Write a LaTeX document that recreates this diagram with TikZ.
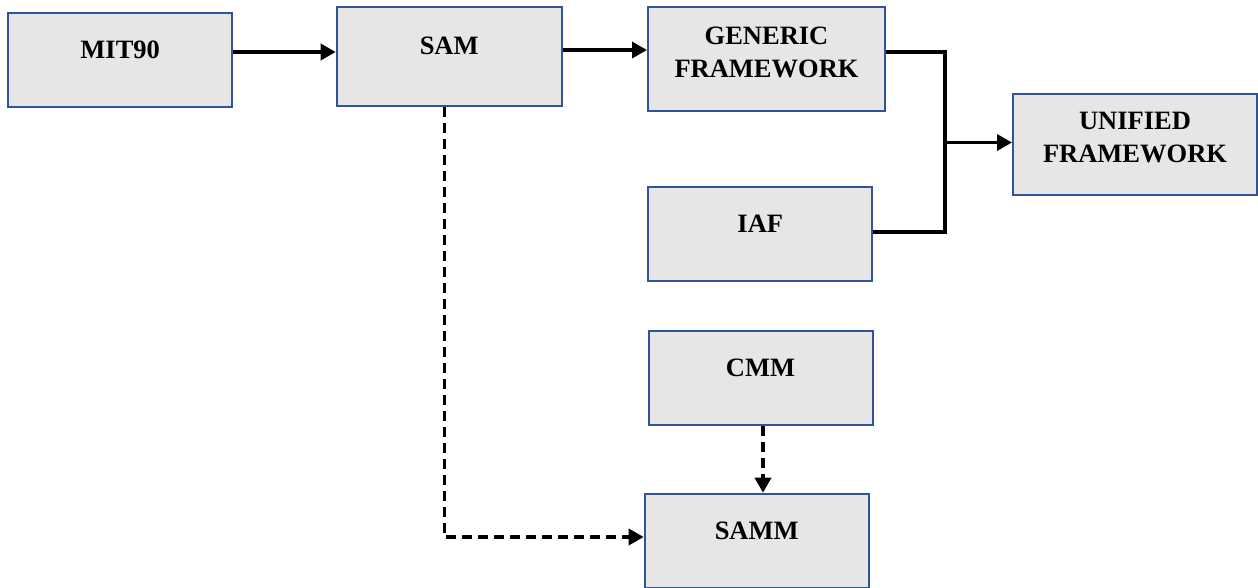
\documentclass[tikz,border=0pt]{standalone}
\usepackage{fontspec}
\setmainfont{Liberation Serif}
\usepackage{tikz, xcolor}
\usetikzlibrary{arrows.meta}

\definecolor{boxfill}{HTML}{E6E6E6}
\definecolor{boxline}{HTML}{2F5597}

\tikzset{
  blk/.style={draw=boxline, fill=boxfill, line width=2pt, inner sep=0pt,
    minimum width=224pt, minimum height=94pt, align=center,
    font=\fontsize{26.5}{33}\selectfont\bfseries,
    text height=18pt, text depth=21pt},
  twoline/.style={text height=40pt, text depth=3pt},
  arr/.style={line width=3.5pt, -{Triangle[length=15pt, width=16pt]}},
  dasharr/.style={arr, dash pattern=on 10pt off 6pt}
}

\begin{document}
\begin{tikzpicture}[x=1pt, y=-1pt]
    \useasboundingbox (0, 0) rectangle (1258, 588);

    \node [blk] (mit) at (120.2, 60.3) {MIT90};
    \node [blk, minimum width=225pt, minimum height=99pt] (sam) at (449.2, 56.3) {SAM};
    \node [blk, twoline, minimum width=237pt, minimum height=104pt] (gen) at (766.5, 58.9) {GENERIC\\FRAMEWORK};
    \node [blk, twoline, minimum width=244pt, minimum height=101pt] (uni) at (1135, 144.2) {UNIFIED\\FRAMEWORK};
    \node [blk] (iaf) at (760.3, 233.8) {IAF};
    \node [blk] (cmm) at (760.5, 377.5) {CMM};
    \node [blk] (samm) at (756.7, 540.7) {SAMM};

    \coordinate (jn) at (945, 142.5);

    \draw [arr] (mit.east |- 0, 52) -- (sam.west |- 0, 52);
    \draw [arr] (sam.east |- 0, 50) -- (gen.west |- 0, 50);
    \draw [line width=3.5pt] (gen.east |- 0, 52) -| (jn) |- (iaf.east |- 0, 232);
    \draw [arr] (jn) -- (uni.west |- jn);

    \draw [dasharr] (sam.south -| 444.5, 0) |- (samm.west |- 0, 537);
    \draw [dasharr] (cmm.south -| 763, 0) -- (samm.north -| 763, 0);
  \end{tikzpicture}
\end{document}
